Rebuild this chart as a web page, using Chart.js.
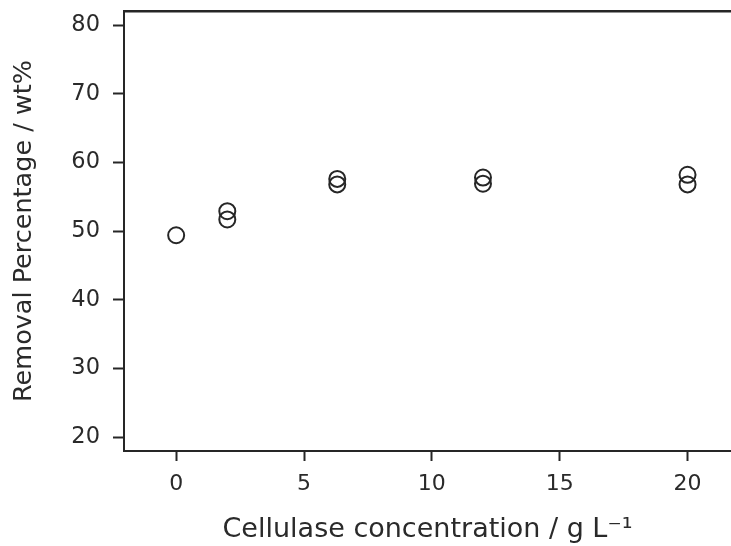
<!DOCTYPE html>
<html>
<head>
<meta charset="utf-8">
<script src="https://cdn.jsdelivr.net/npm/chart.js@4/dist/chart.umd.min.js"></script>
<style>
  html, body { margin: 0; padding: 0; background: #fff; }
  #wrap { width: 731px; height: 546px; }
</style>
</head>
<body>
<div id="wrap"><canvas id="RemovalChart" width="731" height="546"></canvas></div>
<script>
(function () {
  "use strict";

  // Data: cellulase loading vs. removal (replicates share an x value)
  const concentration = [0, 2, 2, 6.3, 6.3, 12, 12, 20, 20];
  const removal       = [49.4, 52.9, 51.7, 57.6, 56.8, 57.8, 56.9, 58.2, 56.8];

  // Tick labels
  const xTicks = [0, 5, 10, 15, 20];
  const yTicks = [20, 30, 40, 50, 60, 70, 80];

  // Colors
  const ink      = '#262626';
  const ink_text = '#2a2a2a';
  const fontFam  = '"DejaVu Sans", Arial, sans-serif';

  const points = concentration.map(function (c, i) { return { x: c, y: removal[i] }; });

  // Axes stop exactly at the plot edges, no extra room for end labels
  function noEdgePadding(scale) {
    scale.paddingLeft = 0;
    scale.paddingRight = 0;
    scale.paddingTop = 0;
    scale.paddingBottom = 0;
  }

  const ctx = document.getElementById('RemovalChart').getContext('2d');

  new Chart(ctx, {
    type: 'scatter',
    data: {
      datasets: [{
        label: 'Removal',
        data: points,
        pointStyle: 'circle',
        pointRadius: 8,
        pointHoverRadius: 8,
        pointBorderWidth: 2,
        pointBorderColor: ink,
        pointBackgroundColor: 'rgba(0,0,0,0)',
        clip: false
      }]
    },
    options: {
      responsive: false,
      animation: false,
      layout: { padding: 0, autoPadding: false },
      plugins: {
        legend: { display: false },
        tooltip: { enabled: false }
      },
      scales: {
        x: {
          type: 'linear',
          position: 'bottom',
          min: -2.04,
          max: 21.7,
          afterBuildTicks: function (scale) {
            scale.ticks = xTicks.map(function (v) { return { value: v }; });
          },
          afterFit: function (scale) { scale.height = 95; noEdgePadding(scale); },
          border: { display: true, color: ink, width: 2 },
          grid: {
            display: true,
            drawOnChartArea: false,
            drawTicks: true,
            tickLength: 10,
            tickWidth: 2,
            tickColor: ink
          },
          ticks: {
            color: ink_text,
            padding: 10,
            maxRotation: 0,
            font: { family: fontFam, size: 22 }
          },
          title: {
            display: true,
            text: 'Cellulase concentration / g L\u207B\u00B9',
            color: ink_text,
            padding: { top: 0, bottom: 0 },
            font: { family: fontFam, size: 27 }
          }
        },
        top: {
          type: 'linear',
          position: 'top',
          min: -2.04,
          max: 21.7,
          afterFit: function (scale) { scale.height = 11; noEdgePadding(scale); },
          border: { display: true, color: ink, width: 2.5 },
          grid: { display: false },
          ticks: { display: false }
        },
        y: {
          type: 'linear',
          position: 'left',
          min: 18,
          max: 82.04,
          afterBuildTicks: function (scale) {
            scale.ticks = yTicks.map(function (v) { return { value: v }; });
          },
          afterFit: function (scale) { scale.width = 124; noEdgePadding(scale); },
          border: { display: true, color: ink, width: 2 },
          grid: {
            display: true,
            drawOnChartArea: false,
            drawTicks: true,
            tickLength: 11,
            tickWidth: 2,
            tickColor: ink
          },
          ticks: {
            color: ink_text,
            padding: 13,
            font: { family: fontFam, size: 22.5 }
          },
          title: {
            display: true,
            text: 'Removal Percentage / wt%',
            color: ink_text,
            padding: { top: 9, bottom: 0 },
            font: { family: fontFam, size: 25.5 }
          }
        }
      }
    }
  });

})();
</script>
</body>
</html>
